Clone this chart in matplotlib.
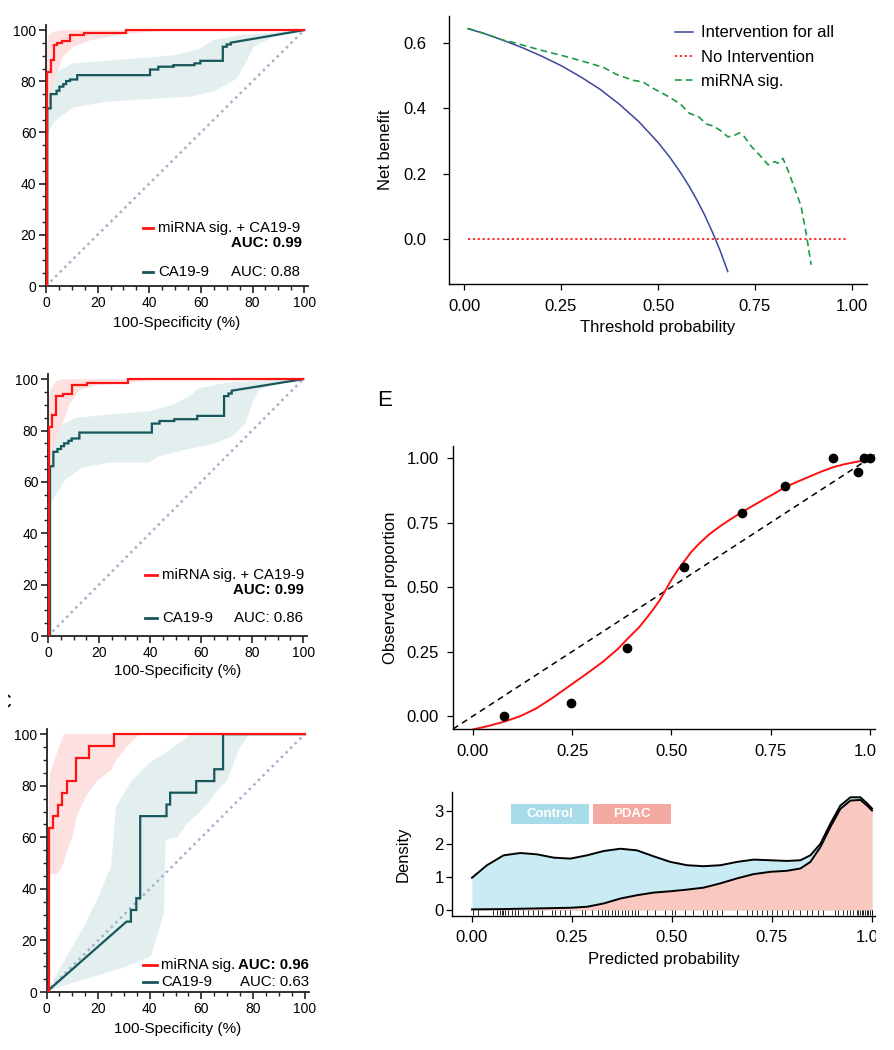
import matplotlib
matplotlib.use('Agg')
from matplotlib import pyplot as plt
from matplotlib.lines import Line2D
from matplotlib.patches import Rectangle
from matplotlib.ticker import MultipleLocator
from matplotlib.transforms import Bbox, TransformedBbox

plt.rcParams['font.family'] = ['Liberation Sans', 'DejaVu Sans']

RED = '#ff1414'
TEAL = '#17565b'
RED_BAND = '#fde0e0'
TEAL_BAND = '#e3eeee'
DIAG = '#a3b1cc'

# ---- ROC data (percent); steps given as (fpr, tpr) jump points ----
roc1_combo_fpr = [0.3, 0.3, 1.8, 3.1, 4.4, 6.1, 9.3, 14.7, 31.0]
roc1_combo_tpr = [0.0, 83.7, 88.5, 94.1, 95.1, 95.8, 98.0, 98.7, 100.0]
roc1_ca_fpr = [0.5, 0.5, 1.8, 4.1, 5.2, 6.7, 7.8, 9.3, 12.1, 40.3, 43.5, 49.4, 57.5, 59.8, 68.5, 70.0, 71.6]
roc1_ca_tpr = [0.0, 69.4, 75.0, 76.3, 77.9, 78.9, 80.1, 80.7, 82.4, 84.6, 85.7, 86.3, 87.0, 88.0, 93.5, 94.4, 95.1]
roc1_combo_hi_x = [0, 0.9, 2.8, 6.7, 100]
roc1_combo_hi_y = [92, 98, 99.3, 100, 100]
roc1_combo_lo_x = [0, 1.6, 4.1, 6.7, 10.6, 17, 30, 39, 49, 100]
roc1_combo_lo_y = [65, 74, 83, 89.6, 93.5, 96, 98.4, 99.3, 100, 100]
roc1_ca_hi_x = [0, 1.5, 5.4, 10.6, 23.5, 36.4, 49.4, 58.4, 64.9, 75.2, 88, 100]
roc1_ca_hi_y = [75, 83, 84.4, 87, 88, 89, 90.2, 92.2, 96.1, 98, 99, 100]
roc1_ca_lo_x = [0, 1, 3, 5.4, 10.6, 23.5, 39, 55.8, 64.9, 73.9, 77.8, 80.4, 88, 100]
roc1_ca_lo_y = [57, 60, 64, 66, 69.8, 72, 73, 74, 76, 81, 88, 93.5, 97.4, 100]

roc2_combo_fpr = [0.4, 0.4, 1.7, 3.1, 6.0, 9.3, 15.2, 31.5]
roc2_combo_tpr = [0.0, 81.2, 86.0, 93.4, 94.4, 97.7, 98.6, 100.0]
roc2_ca_fpr = [0.8, 0.8, 2.1, 3.7, 5.1, 6.3, 8.0, 9.3, 12.3, 40.7, 43.7, 49.5, 58.5, 69.0, 70.7, 72.0]
roc2_ca_tpr = [0.0, 66.1, 71.7, 72.8, 73.9, 75.0, 76.0, 76.9, 79.2, 82.7, 83.7, 84.4, 85.7, 93.4, 94.4, 95.5]
roc2_combo_hi_x = [0, 1, 3, 6, 100]
roc2_combo_hi_y = [90, 96, 99, 100, 100]
roc2_combo_lo_x = [0, 2.1, 4.7, 8.6, 12.5, 19, 33, 40, 100]
roc2_combo_lo_y = [62, 73.7, 80, 90.5, 95.7, 97.7, 98.8, 99.6, 100]
roc2_ca_hi_x = [0, 1, 4.3, 10.8, 24, 39.6, 48.8, 55.3, 59.2, 69.7, 82.7, 100]
roc2_ca_hi_y = [72, 77.8, 81.7, 84.9, 86.2, 87.5, 90, 93.3, 96.5, 98.5, 99.5, 100]
roc2_ca_lo_x = [0.5, 1.7, 6.9, 13.5, 24, 39.6, 43.5, 54, 65.7, 72.3, 77.5, 80, 82.7, 92, 100]
roc2_ca_lo_y = [50, 52.6, 61, 65.5, 67.5, 67.5, 70, 72.6, 75, 77.8, 83, 90.7, 95.9, 99, 100]

roc3_combo_fpr = [0.9, 0.9, 2.5, 4.3, 6.0, 7.9, 11.4, 16.5, 26.2]
roc3_combo_tpr = [0.0, 63.6, 68.2, 72.7, 77.3, 81.8, 90.9, 95.5, 100.0]
roc3_ca_fpr = [31.0, 32.7, 34.8, 36.3, 46.5, 47.9, 58.0, 65.0, 68.4]
roc3_ca_tpr = [27.3, 31.8, 36.4, 68.2, 72.7, 77.3, 81.8, 86.4, 100.0]
roc3_combo_hi_x = [0.9, 1.5, 3, 4.9, 6.8, 100]
roc3_combo_hi_y = [80, 85, 90, 95, 100, 100]
roc3_combo_lo_x = [0.9, 4.3, 6.2, 8.1, 10, 12, 15.9, 19.7, 25, 27, 31, 36, 100]
roc3_combo_lo_y = [45.7, 45.7, 49, 55, 60, 69, 77, 82, 86, 90, 95, 100, 100]
roc3_ca_hi_x = [0, 8, 14.6, 19.7, 25, 27, 33, 40, 48, 56, 78.5]
roc3_ca_hi_y = [0, 14, 25.5, 36, 48.7, 72, 82, 89, 94, 100, 100]
roc3_ca_lo_x = [0, 10, 20, 30, 40.4, 45.5, 46.2, 50.7, 54.6, 58.5, 62.3, 66, 70, 72.6, 75, 78.5]
roc3_ca_lo_y = [0, 3.5, 6.5, 9.5, 13.8, 30.6, 59, 60, 65.5, 69, 73, 78, 82, 89, 95, 100]

roc_ticks = [0, 20, 40, 60, 80, 100]

# ---- decision curve ----
dca_thresh = [0.01, 0.05, 0.10, 0.15, 0.20, 0.25, 0.30, 0.35, 0.40, 0.45, 0.50,
              0.53, 0.56, 0.58, 0.60, 0.62, 0.64, 0.66, 0.68]
dca_all = [0.644, 0.630, 0.609, 0.586, 0.560, 0.531, 0.497, 0.459, 0.413, 0.360, 0.296,
           0.251, 0.200, 0.162, 0.120, 0.074, 0.022, -0.035, -0.100]
dca_none_x = [0.01, 0.99]
dca_none_y = [0.0, 0.0]
dca_sig_x = [0.01, 0.05, 0.10, 0.12, 0.196, 0.265, 0.325, 0.36, 0.393, 0.436, 0.461, 0.488,
             0.521, 0.556, 0.582, 0.603, 0.625, 0.642, 0.659, 0.68, 0.693, 0.71, 0.723, 0.741,
             0.762, 0.784, 0.801, 0.809, 0.822, 0.835, 0.857, 0.869, 0.882, 0.895]
dca_sig_y = [0.645, 0.630, 0.609, 0.604, 0.579, 0.558, 0.538, 0.525, 0.504, 0.486, 0.481, 0.461,
             0.440, 0.415, 0.384, 0.376, 0.352, 0.346, 0.334, 0.313, 0.315, 0.325, 0.313, 0.283,
             0.257, 0.227, 0.237, 0.232, 0.247, 0.211, 0.140, 0.100, 0.018, -0.079]

# ---- calibration ----
cal_pred = [0.078, 0.246, 0.389, 0.532, 0.677, 0.786, 0.908, 0.969, 0.986, 1.0]
cal_obs = [0.0, 0.052, 0.263, 0.577, 0.789, 0.893, 1.0, 0.948, 1.0, 1.0]
cal_fit_x = [0.0, 0.04, 0.078, 0.12, 0.16, 0.2, 0.246, 0.29, 0.328, 0.365, 0.395, 0.418, 0.437,
             0.455, 0.471, 0.486, 0.5, 0.516, 0.532, 0.55, 0.571, 0.595, 0.622, 0.65, 0.677,
             0.705, 0.731, 0.76, 0.786, 0.818, 0.849, 0.878, 0.908, 0.935, 0.958, 0.98, 1.0]
cal_fit_y = [-0.052, -0.038, -0.022, 0.0, 0.03, 0.07, 0.12, 0.168, 0.211, 0.26, 0.308, 0.343, 0.379,
             0.415, 0.45, 0.49, 0.528, 0.566, 0.599, 0.636, 0.670, 0.704, 0.735, 0.764, 0.79,
             0.815, 0.838, 0.863, 0.887, 0.909, 0.929, 0.948, 0.965, 0.976, 0.983, 0.99, 0.994]

# ---- density of predicted probability (stacked) ----
dens_x = [0, 0.0375, 0.079, 0.121, 0.1625, 0.204, 0.246, 0.2875, 0.329, 0.371, 0.4125, 0.454,
          0.496, 0.5375, 0.579, 0.621, 0.6625, 0.704, 0.746, 0.787, 0.821, 0.846, 0.871,
          0.896, 0.921, 0.946, 0.971, 0.9875, 1.0]
dens_total = [0.98, 1.36, 1.66, 1.73, 1.69, 1.59, 1.56, 1.66, 1.79, 1.86, 1.81, 1.63,
              1.46, 1.36, 1.33, 1.36, 1.46, 1.53, 1.51, 1.49, 1.51, 1.66, 2.01,
              2.62, 3.17, 3.42, 3.42, 3.24, 3.08]
dens_pdac = [0.02, 0.025, 0.03, 0.04, 0.05, 0.06, 0.07, 0.10, 0.20, 0.35, 0.45, 0.53,
             0.57, 0.62, 0.68, 0.81, 0.96, 1.09, 1.16, 1.19, 1.26, 1.46, 1.91,
             2.52, 3.07, 3.32, 3.34, 3.17, 3.02]
rug = [0.003, 0.016, 0.053, 0.062, 0.07, 0.074, 0.078, 0.083, 0.091, 0.10, 0.108, 0.116,
       0.128, 0.141, 0.153, 0.166, 0.174, 0.199, 0.208, 0.22, 0.233, 0.245, 0.274, 0.283,
       0.299, 0.316, 0.324, 0.333, 0.341, 0.349, 0.358, 0.366, 0.374, 0.383, 0.391, 0.399,
       0.408, 0.414, 0.437, 0.458, 0.483, 0.499, 0.508, 0.533, 0.553, 0.578, 0.587, 0.599,
       0.612, 0.624, 0.662, 0.687, 0.699, 0.712, 0.724, 0.737, 0.749, 0.762, 0.774, 0.791,
       0.803, 0.82, 0.837, 0.849, 0.866, 0.878, 0.907, 0.916, 0.928, 0.937, 0.945, 0.953,
       0.962, 0.966, 0.97, 0.974, 0.978, 0.983, 0.987, 0.991, 0.995, 0.999, 1.0]
prob_ticks = [0.0, 0.25, 0.5, 0.75, 1.0]
prob_labels = ['0.00', '0.25', '0.50', '0.75', '1.00']


def staircase(fpr, tpr):
    # first point is joined straight from the origin, then horizontal-then-vertical steps
    xs, ys = [0, fpr[0]], [0, tpr[0]]
    for f, t in zip(fpr[1:], tpr[1:]):
        xs += [f, f]
        ys += [ys[-1], t]
    xs.append(100)
    ys.append(100)
    return xs, ys


def band(ax, hx, hy, lx, ly, color):
    ax.fill(hx + lx[::-1], hy + ly[::-1], color=color, lw=0, zorder=1)


def roc_panel(ax, combo, ca, combo_band, ca_band):
    band(ax, *ca_band, TEAL_BAND)
    band(ax, *combo_band, RED_BAND)
    ax.plot([0, 100], [0, 100], color=DIAG, lw=1.8, ls=(0, (1, 1.6)), zorder=2)
    x, y = staircase(*ca)
    ax.plot(x, y, color=TEAL, lw=1.6, zorder=3, solid_joinstyle='miter')
    x, y = staircase(*combo)
    ax.plot(x, y, color=RED, lw=1.6, zorder=4, solid_joinstyle='miter')
    ax.set_xlim(0, 101.5)
    ax.set_ylim(0, 102)
    ax.set_xticks(roc_ticks)
    ax.set_yticks(roc_ticks)
    ax.xaxis.set_minor_locator(MultipleLocator(5))
    ax.yaxis.set_minor_locator(MultipleLocator(5))
    for s in ['top', 'right']:
        ax.spines[s].set_visible(False)
    for s in ['left', 'bottom']:
        ax.spines[s].set_linewidth(1.3)
        ax.spines[s].set_color('#222222')
    ax.tick_params(which='major', length=5, width=1.2, labelsize=10, pad=2, color='#222222')
    ax.tick_params(which='minor', length=3, width=1.0, color='#222222')
    ax.set_xlabel('100-Specificity (%)', fontsize=11, va='top')


def legend_key(ax, x0, x1, y, color):
    ax.add_line(Line2D([x0, x1], [y, y], color=color, lw=2, transform=ax.transData,
                       clip_on=False))


LEG = 10.8

fig = plt.figure(figsize=(8.94, 10.5), dpi=100)
W, H = 894.0, 1050.0


def px_axes(left, right, top, bottom):
    return fig.add_axes([left / W, 1 - bottom / H, (right - left) / W, (bottom - top) / H])


# panel 1
ax1 = px_axes(46, 308, 25, 286)
roc_panel(ax1, (roc1_combo_fpr, roc1_combo_tpr), (roc1_ca_fpr, roc1_ca_tpr),
          (roc1_combo_hi_x, roc1_combo_hi_y, roc1_combo_lo_x, roc1_combo_lo_y),
          (roc1_ca_hi_x, roc1_ca_hi_y, roc1_ca_lo_x, roc1_ca_lo_y))
ax1.xaxis.set_label_coords(0.5, -0.115)
legend_key(ax1, 37.6, 41.5, 22.7, RED)
ax1.text(43.4, 22.7, 'miRNA sig. + CA19-9', fontsize=LEG, va='center')
ax1.text(99.2, 16.8, 'AUC: 0.99', fontsize=LEG, va='center', ha='right', fontweight='bold')
legend_key(ax1, 37.6, 41.5, 5.5, TEAL)
ax1.text(43.4, 5.5, 'CA19-9', fontsize=LEG, va='center')
ax1.text(98.4, 5.5, 'AUC: 0.88', fontsize=LEG, va='center', ha='right')

# panel 2
ax2 = px_axes(48, 307, 374, 636)
roc_panel(ax2, (roc2_combo_fpr, roc2_combo_tpr), (roc2_ca_fpr, roc2_ca_tpr),
          (roc2_combo_hi_x, roc2_combo_hi_y, roc2_combo_lo_x, roc2_combo_lo_y),
          (roc2_ca_hi_x, roc2_ca_hi_y, roc2_ca_lo_x, roc2_ca_lo_y))
ax2.xaxis.set_label_coords(0.5, -0.107)
legend_key(ax2, 38, 42.7, 23.7, RED)
ax2.text(44.7, 23.7, 'miRNA sig. + CA19-9', fontsize=LEG, va='center')
ax2.text(100.4, 17.9, 'AUC: 0.99', fontsize=LEG, va='center', ha='right', fontweight='bold')
legend_key(ax2, 38, 42.7, 7.0, TEAL)
ax2.text(44.7, 7.0, 'CA19-9', fontsize=LEG, va='center')
ax2.text(100.0, 7.0, 'AUC: 0.86', fontsize=LEG, va='center', ha='right')

# panel 3
ax3 = px_axes(46.5, 308.5, 729, 992)
roc_panel(ax3, (roc3_combo_fpr, roc3_combo_tpr), (roc3_ca_fpr, roc3_ca_tpr),
          (roc3_combo_hi_x, roc3_combo_hi_y, roc3_combo_lo_x, roc3_combo_lo_y),
          (roc3_ca_hi_x, roc3_ca_hi_y, roc3_ca_lo_x, roc3_ca_lo_y))
ax3.xaxis.set_label_coords(0.5, -0.114)
legend_key(ax3, 37.4, 42.8, 10.5, RED)
ax3.text(44.4, 10.5, 'miRNA sig.', fontsize=LEG, va='center')
ax3.text(101.5, 10.5, 'AUC: 0.96', fontsize=LEG, va='center', ha='right', fontweight='bold')
legend_key(ax3, 37.4, 42.8, 3.9, TEAL)
ax3.text(44.4, 3.9, 'CA19-9', fontsize=LEG, va='center')
ax3.text(101.5, 3.9, 'AUC: 0.63', fontsize=LEG, va='center', ha='right')


def gg_axes(ax):
    for s in ['top', 'right']:
        ax.spines[s].set_visible(False)
    for s in ['left', 'bottom']:
        ax.spines[s].set_linewidth(1.0)
    ax.tick_params(length=4, width=0.9, labelsize=12)


# decision curve
axd = px_axes(449, 867, 16, 284)
axd.plot(dca_thresh, dca_all, color='#3a479a', lw=1.1, label='Intervention for all')
axd.plot(dca_none_x, dca_none_y, color='#ff1a1a', lw=1.3, ls=(0, (1.2, 1.5)), label='No Intervention')
axd.plot(dca_sig_x, dca_sig_y, color='#1c9a44', lw=1.2, ls=(0, (4, 2.5)), label='miRNA sig.')
axd.set_xlim(-0.039, 1.039)
axd.set_ylim(-0.138, 0.683)
axd.set_xticks(prob_ticks)
axd.set_xticklabels(prob_labels)
axd.set_yticks([0.0, 0.2, 0.4, 0.6])
axd.set_yticklabels(['0.0', '0.2', '0.4', '0.6'])
gg_axes(axd)
axd.tick_params(axis='y', pad=12)
axd.tick_params(axis='x', pad=7)
axd.set_xlabel('Threshold probability', fontsize=12, va='top')
axd.xaxis.set_label_coords(0.5, -0.135)
axd.set_ylabel('Net benefit', fontsize=12, va='center')
axd.yaxis.set_label_coords(-0.153, 0.5)
axd.legend(loc='upper left', bbox_to_anchor=(0.54, 0.965), frameon=False, fontsize=12,
           handlelength=1.1, handletextpad=0.45, labelspacing=0.55, borderpad=0, borderaxespad=0)

# calibration
axc = px_axes(453, 875, 446, 729)
axc.plot([-0.05, 1.05], [-0.05, 1.05], color='black', lw=1.1, ls=(0, (4, 3)))
axc.plot(cal_fit_x, cal_fit_y, color='#ff1010', lw=1.4)
axc.plot(cal_pred, cal_obs, 'o', color='black', ms=6)
axc.set_xlim(-0.05, 1.013)
axc.set_ylim(-0.05, 1.047)
axc.set_xticks(prob_ticks)
axc.set_xticklabels(prob_labels)
axc.set_yticks(prob_ticks)
axc.set_yticklabels(prob_labels)
gg_axes(axc)
axc.tick_params(axis='y', pad=6)
axc.tick_params(axis='x', pad=7)
axc.set_ylabel('Observed proportion', fontsize=12, va='center')
axc.yaxis.set_label_coords(-0.149, 0.5)

# density
axn = px_axes(452, 875, 792, 916)
axn.fill_between(dens_x, 0, dens_total, color='#c9ebf3', lw=0)
axn.fill_between(dens_x, 0, dens_pdac, color='#f8c8c1', lw=0)
axn.plot(dens_x, dens_total, color='black', lw=1.4)
axn.plot(dens_x, dens_pdac, color='black', lw=1.4)
axn.vlines(rug, -0.16, -0.01, color='black', lw=0.6)
axn.set_xlim(-0.05, 1.0075)
axn.set_ylim(-0.18, 3.58)
axn.set_xticks(prob_ticks)
axn.set_xticklabels(prob_labels)
axn.set_yticks([0, 1, 2, 3])
gg_axes(axn)
axn.tick_params(axis='y', pad=2)
axn.tick_params(axis='x', pad=6)
axn.set_xlabel('Predicted probability', fontsize=12, va='top')
axn.xaxis.set_label_coords(0.5, -0.29)
axn.set_ylabel('Density', fontsize=12, va='center')
axn.yaxis.set_label_coords(-0.116, 0.5)
for bx, name, col in [(510.7, 'Control', '#a8dce8'), (593, 'PDAC', '#f3a99f')]:
    fig.patches.append(Rectangle((bx / W, 1 - 824 / H), 78 / W, 20 / H, transform=fig.transFigure,
                                 color=col, lw=0))
    fig.text((bx + 39) / W, 1 - 814 / H, name, color='white', fontsize=9.5, fontweight='bold',
             ha='center', va='center')

# the figure is cut at the right edge, as in the reference
clip = TransformedBbox(Bbox([[0, 0], [876 / W, 1]]), fig.transFigure)
for a in (axc, axn):
    for lbl in a.get_xticklabels():
        lbl.set_clip_box(clip)
        lbl.set_clip_on(True)

fig.text(385 / W, 1 - 400 / H, 'E', fontsize=16, ha='center', va='center')
c = fig.text(-3 / W, 1 - 702 / H, 'C', fontsize=15, ha='left', va='center')
c.set_clip_box(TransformedBbox(Bbox([[8 / W, 0], [1, 1]]), fig.transFigure))
c.set_clip_on(True)

fig.savefig('out.png', dpi=100)
